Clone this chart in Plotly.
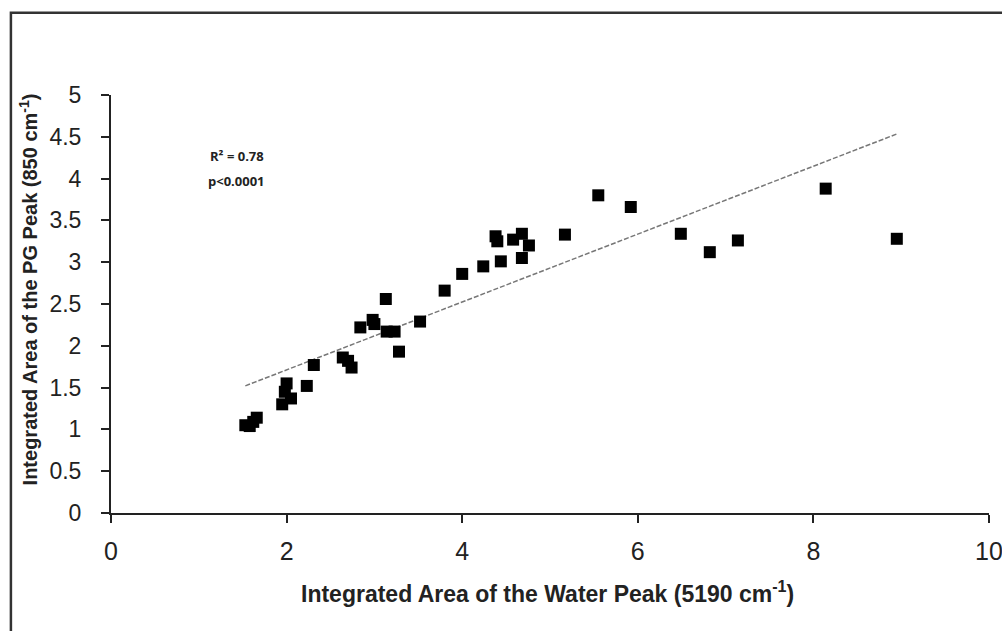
import plotly.graph_objects as go

# Data
water_area = [1.53, 1.58, 1.62, 1.66, 1.95, 1.98, 2.00, 2.05, 2.23, 2.31,
              2.64, 2.70, 2.74, 2.84, 2.98, 3.00, 3.13, 3.14, 3.23, 3.28,
              3.52, 3.80, 4.00, 4.24, 4.38, 4.40, 4.44, 4.58, 4.68, 4.68,
              4.76, 5.17, 5.55, 5.92, 6.49, 6.82, 7.14, 8.14, 8.95]
pg_area = [1.05, 1.04, 1.09, 1.14, 1.30, 1.45, 1.55, 1.37, 1.52, 1.77,
           1.86, 1.82, 1.74, 2.22, 2.31, 2.26, 2.56, 2.17, 2.17, 1.93,
           2.29, 2.66, 2.86, 2.95, 3.31, 3.25, 3.01, 3.27, 3.34, 3.05,
           3.20, 3.33, 3.80, 3.66, 3.34, 3.12, 3.26, 3.88, 3.28]

# Trend line as drawn in the reference
trend_slope = 0.406
trend_intercept = 0.90
trend_x = [1.53, 8.95]
trend_y = [trend_slope * v + trend_intercept for v in trend_x]

x_ticks = [0, 2, 4, 6, 8, 10]
y_ticks = [0, 0.5, 1, 1.5, 2, 2.5, 3, 3.5, 4, 4.5, 5]
y_tick_text = ["0", "0.5", "1", "1.5", "2", "2.5", "3", "3.5", "4", "4.5", "5"]

fig = go.Figure()
fig.add_trace(go.Scatter(
    x=trend_x, y=trend_y, mode="lines",
    line=dict(color="#777777", width=1.5, dash="5px,2px"),
    hoverinfo="skip", showlegend=False))
fig.add_trace(go.Scatter(
    x=water_area, y=pg_area, mode="markers",
    marker=dict(symbol="square", size=12, color="black"),
    showlegend=False))

axis_font = "Liberation Sans, Arial, sans-serif"

fig.update_layout(
    width=1002, height=631,
    margin=dict(l=111, r=13, t=95, b=118),
    paper_bgcolor="white", plot_bgcolor="white",
    font=dict(family=axis_font, color="#222222"),
    xaxis=dict(range=[0, 10], tickvals=x_ticks, ticktext=[str(t) for t in x_ticks],
               showgrid=False, zeroline=False, showline=True, linecolor="#222222",
               linewidth=2, ticks="outside", ticklen=8, tickwidth=1.5, tickcolor="#222222",
               tickfont=dict(size=25, family=axis_font, color="#222222"),
               ticklabelstandoff=7, ticklabeloverflow="allow", automargin=False),
    yaxis=dict(range=[0, 5], tickvals=y_ticks, ticktext=y_tick_text,
               showgrid=False, zeroline=False, showline=True, linecolor="#222222",
               linewidth=2, ticks="outside", ticklen=8, tickwidth=1.5, tickcolor="#222222",
               tickfont=dict(size=23, family=axis_font, color="#222222"),
               ticklabelstandoff=15, ticklabeloverflow="allow", automargin=False),
    shapes=[dict(type="rect", xref="paper", yref="paper",
                 x0=-0.114, x1=1.03, y0=-0.32, y1=1.197,
                 line=dict(color="#333333", width=2.5), fillcolor="rgba(0,0,0,0)",
                 layer="below")],
    annotations=[
        dict(text="<b>Integrated Area of the Water Peak (5190 cm<sup>-1</sup>)</b>",
             xref="paper", yref="paper", x=0.497, y=-0.19,
             xanchor="center", yanchor="middle", showarrow=False,
             font=dict(size=23, family=axis_font, color="#222222")),
        dict(text="<b>Integrated Area of the PG Peak (850 cm<sup>-1</sup>)</b>",
             xref="paper", yref="paper", x=-0.0945, y=0.535, textangle=-90,
             xanchor="center", yanchor="middle", showarrow=False,
             font=dict(size=20, family=axis_font, color="#222222")),
        dict(text="<b>R² = 0.78</b>",
             xref="x", yref="y", x=1.43, y=4.27,
             xanchor="center", yanchor="middle", showarrow=False,
             font=dict(size=13, family="Open Sans, Arial, sans-serif", color="#222222")),
        dict(text="<b>p<0.0001</b>",
             xref="x", yref="y", x=1.43, y=3.97,
             xanchor="center", yanchor="middle", showarrow=False,
             font=dict(size=13, family="Open Sans, Arial, sans-serif", color="#222222")),
    ],
)

fig.write_html("out.html", config={"displayModeBar": False},
               post_script="document.body.style.margin='0';document.body.style.padding='0';")
